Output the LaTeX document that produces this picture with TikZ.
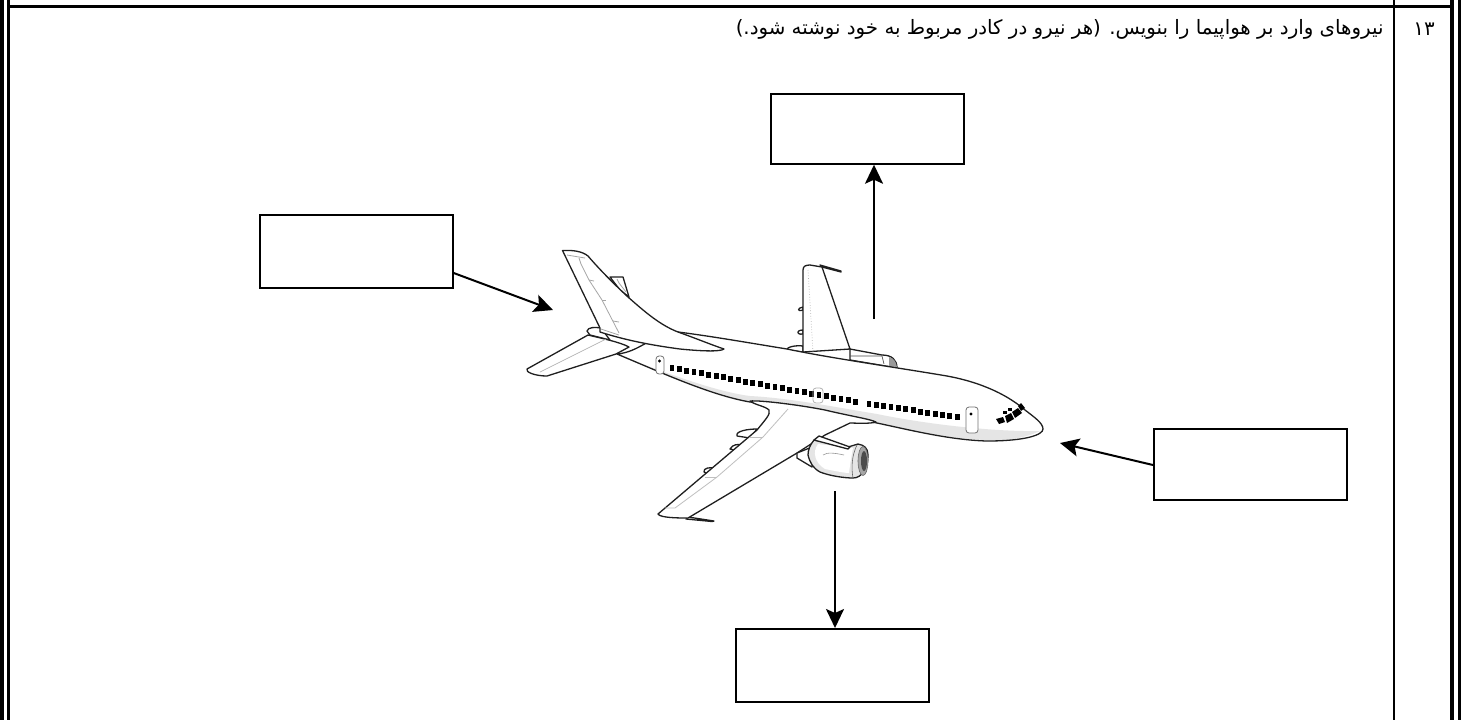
\documentclass[tikz,border=0pt]{standalone}
\usepackage{fontspec}
\usetikzlibrary{arrows.meta}
\TeXXeTstate=1
\newfontfamily\arabicfont[Script=Arabic]{DejaVu Sans}
\newcommand{\hullpath}{(617,354) .. controls (640,352) and (650,335) .. (678,332)
  .. controls (710,336) and (750,343) .. (787,349)
  .. controls (830,358) and (900,368) .. (947,376)
  .. controls (985,383) and (1010,397) .. (1025,410)
  .. controls (1034,417) and (1043,423) .. (1043,429)
  .. controls (1043,435) and (1025,441) .. (987,441)
  .. controls (950,440) and (910,430) .. (877,423)
  .. controls (840,414) and (790,405) .. (750,402)
  .. controls (710,395) and (660,372) .. (617,354) -- cycle}
\tikzset{
  answerbox/.style={draw,line width=0.85pt,inner sep=0pt,anchor=north west},
  forcearrow/.style={line width=1pt,-{Stealth[length=9.5pt,width=9pt,inset=2pt]}},
  hull/.style={draw=black!88,line width=0.65pt,fill=white,line join=round},
  detail/.style={draw=black!35,line width=0.4pt},
  door/.style={draw=black!55,line width=0.4pt,rounded corners=1.5pt,fill=white},
  label/.style={inner sep=0pt,font=\arabicfont}
}
\begin{document}
\begin{tikzpicture}[x=0.5pt,y=-0.5pt]
\useasboundingbox (0,0) rectangle (1461,720);
% frame
\fill (0,0) rectangle (4,720);
\fill (7,0) rectangle (10,720);
\fill (1450,0) rectangle (1454,720);
\fill (1458,0) rectangle (1461,720);
\fill (10,5) rectangle (1450,7.5);
\fill (1393,0) rectangle (1395,720);
% texts
\node[label,anchor=east,font=\arabicfont\fontsize{9.9pt}{11pt}\selectfont] (question) at (1384,29) {\beginR نیروهای وارد بر هواپیما را بنویس. (هر نیرو در کادر مربوط به خود نوشته شود.)\endR};
\node[label,font=\arabicfont\fontsize{9.9pt}{11pt}\selectfont] (number) at (1424,29) {\beginR ۱۳\endR};
% boxes
\node[answerbox,minimum width=96.5pt,minimum height=35pt] (top) at (770,93) {};
\node[answerbox,minimum width=96.5pt,minimum height=36.5pt] (left) at (259,214) {};
\node[answerbox,minimum width=96.5pt,minimum height=35.5pt] (right) at (1153,428) {};
\node[answerbox,minimum width=96.5pt,minimum height=36.5pt] (bottom) at (735,628) {};
% far side parts
\draw[hull] (610,277) -- (623,277) -- (629,297) -- (620,290) -- cycle;
\draw[detail] (617,279) -- (619,283) -- (626,292);
\draw[hull] (787,350) .. controls (786,347) and (796,345) .. (803,346) -- (803,352) -- cycle;
\draw[hull] (803,310) .. controls (797,312) and (797,308) .. (803,307) -- cycle;
\draw[hull] (803,334) .. controls (796,335) and (796,330) .. (803,330) -- cycle;
\draw[hull] (822,267) -- (841,272) -- (841,271) -- (820,265) -- cycle;
\draw[hull] (803,352) -- (803,270) .. controls (803,266) and (806,265) .. (810,265)
  -- (822,267) -- (850,349) -- cycle;
\draw[black!30,densely dotted,line width=0.35pt] (808,270) -- (813,352);
% far engine
\draw[hull] (850,349) -- (882,355) .. controls (892,355) and (897,360) .. (897,368) -- (850,360) -- cycle;
\fill[black!40] (889,357) .. controls (894,358) and (896,362) .. (897,367) -- (889,366) -- cycle;
\draw[black!70,line width=0.35pt] (850,356) -- (882,356) -- (884,364);
% belly and fuselage
\fill[white] \hullpath;
\fill[black!10] (622,357) .. controls (650,366) and (710,391) .. (750,396)
  .. controls (790,398) and (840,408) .. (877,414)
  .. controls (920,423) and (990,432) .. (1040,431)
  .. controls (1020,440) and (1000,441) .. (987,440)
  .. controls (950,439) and (910,430) .. (877,423)
  .. controls (840,414) and (790,405) .. (750,402)
  .. controls (710,395) and (660,372) .. (622,357) -- cycle;
\draw[hull,fill=none] \hullpath;
% windows
\foreach \i in {0,...,25}{
  \fill ({672+\i*7.35},{368+\i*1.35}) ++(-2.4,-3) rectangle ++(4.8,6);
}
\foreach \i in {0,...,12}{
  \fill ({869+\i*7.35},{404+\i*1.08}) ++(-2.4,-3) rectangle ++(4.8,6);
}
% doors
\draw[door] (656,356) rectangle (664,374);
\fill (659.5,361) circle (1.6);
\draw[door,fill=none,draw=black!30] (813,388) rectangle (823,403);
\draw[door] (966,407) rectangle (978,433);
\fill (971,414) circle (1.6);
% cockpit
\fill (996,419) -- (1003,417) -- (1005,422) -- (999,424) -- cycle;
\fill (1005,416) -- (1011,413) -- (1014,419) -- (1007,423) -- cycle;
\fill (1012,412) -- (1018,408) -- (1022,413) -- (1015,418) -- cycle;
\fill (1018,406) -- (1021,403) -- (1025,408) -- (1021,411) -- cycle;
\fill (1003,410.5) rectangle (1006.5,414);
\fill (1008,407.5) rectangle (1011.5,411);
% tail
\draw[hull] (587,331) .. controls (588,327) and (595,327) .. (601,328) -- (610,340) -- (590,335) -- cycle;
\draw[hull] (562.5,250.5) .. controls (572,250) and (582,251) .. (588,256)
  .. controls (600,270) and (615,285) .. (628,297)
  .. controls (645,312) and (660,325) .. (678,332)
  .. controls (695,338) and (712,345) .. (724,349)
  .. controls (720,352) and (700,351) .. (680,349)
  .. controls (650,345) and (625,340) .. (600,332)
  -- (600,328) -- cycle;
\draw[detail] (579,258) -- (581,264) -- (589,280) -- (602,300) -- (619,333);
\draw[detail] (567,255) -- (585,258);
\draw[detail] (589,280) -- (594,281);
\draw[detail] (602,300) -- (606,300);
\draw[detail] (613,321) -- (619,322);
\draw[detail] (601,329) -- (619,335);
% tailplane
\draw[hull] (588,335) -- (527,369) .. controls (525,372) and (535,376) .. (547,376)
  -- (616,354) -- (629,347) .. controls (620,342) and (600,338) .. (588,335) -- cycle;
\draw[black!30,line width=0.35pt] (606,339) -- (540,372);
% near wing
\draw[hull] (730,449) .. controls (733,444) and (738,444) .. (742,445) -- (738,451) -- cycle;
\draw[hull] (737,436) .. controls (735,431) and (748,429) .. (757,429) -- (750,438) -- cycle;
\draw[hull] (704,472) .. controls (703,468) and (710,467) .. (715,468) -- (709,474) -- cycle;
\draw[hull] (688,517) -- (714,521) -- (712,521.5) -- (686,519) -- cycle;
\draw[hull] (750,401) .. controls (760,400) and (800,405) .. (825,410)
  .. controls (850,416) and (870,419) .. (876,422)
  .. controls (870,424) and (855,423) .. (850,423) -- (825,435) -- (797,453) -- (688,518)
  .. controls (680,518) and (660,518) .. (658,514)
  -- (757,430) .. controls (765,420) and (771,414) .. (769,410)
  .. controls (765,406) and (755,405) .. (750,401) -- cycle;
\draw[black!25,line width=0.4pt] (788,409) -- (763,437) -- (717,477) -- (675,508) -- (665,508);
\draw[black!25,line width=0.4pt] (750,437) -- (763,437) (705,477) -- (717,477);
% near engine
\draw[hull] (797,453) -- (797,458) -- (812,467) -- (815,448) -- (812,447) -- cycle;
\draw[hull,fill=black!10] (814,440) .. controls (810,445) and (808,450) .. (808,455)
  .. controls (810,463) and (813,468) .. (820,472)
  .. controls (830,476) and (845,478) .. (853,478)
  .. controls (862,478) and (868,468) .. (868,455)
  .. controls (868,448) and (864,445) .. (858,444) -- (848,447) -- cycle;
\fill[white] (818,444) .. controls (812,452) and (815,463) .. (825,469) .. controls (835,471) and (845,473) .. (849,473) .. controls (850,465) and (851,458) .. (853,448) -- cycle;
\fill[black!35,draw=black!60,line width=0.3pt] (863,461) ellipse (5 and 14.5);
\fill[black!70] (864,461) ellipse (3 and 10);
\draw[black!60,line width=0.3pt] (853,478) .. controls (851,467) and (852,455) .. (857,445);
\draw[black!40,line width=0.3pt] (823,455) .. controls (827,452) and (835,453) .. (844,455);
\draw[hull] (819,436) -- (850,447) -- (848,449) -- (814,440) -- cycle;
% arrows
\coordinate (topfoot) at (874,319);
\coordinate (lefthead) at (553,310);
\coordinate (righthead) at (1060,443);
\coordinate (bottomfoot) at (835,491);
\draw[forcearrow] (topfoot) -- (top.south -| topfoot);
\draw[forcearrow] (left.east |- 0,273) -- (lefthead);
\draw[forcearrow] (right.west |- 0,465) -- (righthead);
\draw[forcearrow] (bottomfoot) -- (bottom.north -| bottomfoot);
\end{tikzpicture}
\end{document}
